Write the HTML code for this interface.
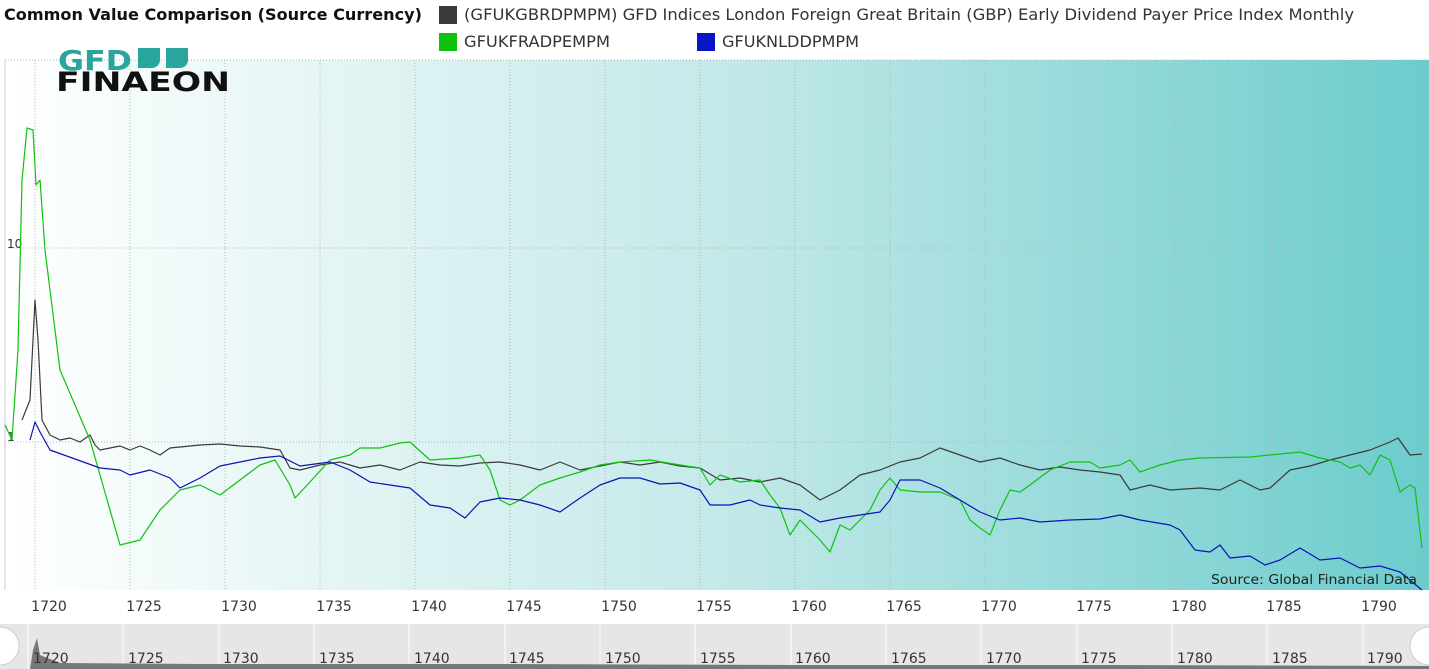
<!DOCTYPE html>
<html><head><meta charset="utf-8"><style>
body{margin:0;background:#fff;font-family:"DejaVu Sans",sans-serif}
</style></head><body>
<svg width="1429" height="669" xmlns="http://www.w3.org/2000/svg" style="display:block" font-family="'DejaVu Sans',sans-serif">
<defs>
<linearGradient id="bg" x1="0" x2="1" y1="0" y2="0">
<stop offset="0" stop-color="#ffffff"/><stop offset="0.5" stop-color="#c5e9e9"/><stop offset="1" stop-color="#6ccccc"/>
</linearGradient>
</defs>
<rect x="5" y="60" width="1424" height="530" fill="url(#bg)"/>
<line x1="5" y1="60" x2="5" y2="590" stroke="#ccc"/>
<g stroke="#b5b5b5" stroke-dasharray="1,2" stroke-width="1">
<line x1="35" y1="60" x2="35" y2="590"/><line x1="130" y1="60" x2="130" y2="590"/><line x1="225" y1="60" x2="225" y2="590"/><line x1="320" y1="60" x2="320" y2="590"/><line x1="415" y1="60" x2="415" y2="590"/><line x1="510" y1="60" x2="510" y2="590"/><line x1="605" y1="60" x2="605" y2="590"/><line x1="700" y1="60" x2="700" y2="590"/><line x1="795" y1="60" x2="795" y2="590"/><line x1="890" y1="60" x2="890" y2="590"/><line x1="985" y1="60" x2="985" y2="590"/><line x1="1080" y1="60" x2="1080" y2="590"/><line x1="1175" y1="60" x2="1175" y2="590"/><line x1="1270" y1="60" x2="1270" y2="590"/><line x1="1365" y1="60" x2="1365" y2="590"/>
<line x1="5" y1="60" x2="1429" y2="60"/><line x1="5" y1="248" x2="1429" y2="248"/><line x1="5" y1="442" x2="1429" y2="442"/>
</g>
<text x="7" y="248" font-size="12" fill="#333">10</text>
<text x="7" y="441" font-size="12" fill="#333">1</text>
<!-- logo -->
<text x="58" y="70" font-size="28" font-weight="bold" fill="#2aa59d" textLength="74" lengthAdjust="spacingAndGlyphs">GFD</text>
<path d="M138 48 h22 v12 a8 8 0 0 1 -8 8 h-14z M166 48 h22 v12 a8 8 0 0 1 -8 8 h-14z" fill="#2aa59d"/>
<text x="56" y="91" font-size="27" font-weight="bold" fill="#111" textLength="174" lengthAdjust="spacingAndGlyphs">FINAEON</text>
<g fill="none" stroke-width="1.2" stroke-linejoin="round">
<polyline stroke="#3a3a3a" points="22,420 30,400 35,300 38,340 42,420 50,435 60,440 70,438 80,442 90,435 95,445 100,450 110,448 120,446 130,450 140,446 150,450 160,455 170,448 180,447 200,445 220,444 240,446 260,447 280,450 290,468 300,470 320,465 340,462 360,468 380,465 400,470 420,462 440,465 460,466 480,463 500,462 520,465 540,470 560,462 580,470 600,466 620,462 640,465 660,462 680,466 700,468 720,480 740,478 760,482 780,478 800,485 820,500 840,490 860,475 880,470 900,462 920,458 940,448 960,455 980,462 1000,458 1020,465 1040,470 1060,467 1080,470 1100,472 1120,475 1130,490 1150,485 1170,490 1200,488 1220,490 1240,480 1260,490 1270,488 1290,470 1310,466 1330,460 1350,455 1370,450 1390,442 1398,438 1410,455 1422,454"/>
<polyline stroke="#0fc20f" points="5,425 12,440 18,350 22,180 27,128 33,130 36,185 40,180 45,250 60,370 90,440 120,545 140,540 160,510 180,490 200,485 220,495 240,480 260,465 275,460 290,485 295,498 310,482 330,460 350,455 360,448 380,448 400,443 410,442 430,460 460,458 480,455 490,470 500,500 510,505 520,500 540,485 560,478 580,472 600,465 620,462 650,460 680,465 700,468 710,485 720,475 740,482 760,480 770,495 780,508 790,535 800,520 810,530 820,540 830,552 840,525 850,530 860,520 870,510 880,490 890,478 900,490 920,492 940,492 960,500 970,520 980,528 990,535 1000,510 1010,490 1020,492 1030,485 1050,470 1070,462 1090,462 1100,468 1120,465 1130,460 1140,472 1160,465 1180,460 1200,458 1250,457 1300,452 1320,458 1340,462 1350,468 1360,465 1370,475 1380,455 1390,460 1400,492 1410,485 1415,488 1422,548"/>
<polyline stroke="#0a14b4" points="30,440 35,422 40,432 50,450 100,468 120,470 130,475 150,470 170,478 180,488 200,478 220,466 240,462 260,458 280,456 300,466 330,462 350,470 370,482 390,485 410,488 430,505 450,508 465,518 480,502 500,498 520,500 540,505 560,512 580,498 600,485 620,478 640,478 660,484 680,483 700,490 710,505 730,505 750,500 760,505 780,508 800,510 820,522 840,518 860,515 880,512 890,500 900,480 920,480 940,488 960,500 980,512 1000,520 1020,518 1040,522 1070,520 1100,519 1120,515 1140,520 1170,525 1180,530 1195,550 1210,552 1220,545 1230,558 1250,556 1265,565 1280,560 1300,548 1320,560 1340,558 1360,568 1380,566 1400,572 1422,590"/>
</g>
<text x="1417" y="584" font-size="13" fill="#222" text-anchor="end" textLength="206" lengthAdjust="spacingAndGlyphs">Source: Global Financial Data</text>
<g font-size="14" fill="#333" text-anchor="middle">
<text x="49" y="611">1720</text><text x="144" y="611">1725</text><text x="239" y="611">1730</text><text x="334" y="611">1735</text><text x="429" y="611">1740</text><text x="524" y="611">1745</text><text x="619" y="611">1750</text><text x="714" y="611">1755</text><text x="809" y="611">1760</text><text x="904" y="611">1765</text><text x="999" y="611">1770</text><text x="1094" y="611">1775</text><text x="1189" y="611">1780</text><text x="1284" y="611">1785</text><text x="1379" y="611">1790</text>
</g>
<!-- navigator -->
<rect x="0" y="624" width="1429" height="45" fill="#e6e6e6"/>
<g stroke="#fff"><line x1="28" y1="624" x2="28" y2="669"/><line x1="123" y1="624" x2="123" y2="669"/><line x1="219" y1="624" x2="219" y2="669"/><line x1="314" y1="624" x2="314" y2="669"/><line x1="409" y1="624" x2="409" y2="669"/><line x1="505" y1="624" x2="505" y2="669"/><line x1="600" y1="624" x2="600" y2="669"/><line x1="695" y1="624" x2="695" y2="669"/><line x1="791" y1="624" x2="791" y2="669"/><line x1="886" y1="624" x2="886" y2="669"/><line x1="981" y1="624" x2="981" y2="669"/><line x1="1077" y1="624" x2="1077" y2="669"/><line x1="1172" y1="624" x2="1172" y2="669"/><line x1="1267" y1="624" x2="1267" y2="669"/><line x1="1363" y1="624" x2="1363" y2="669"/></g>
<path d="M30 669 L33 650 L37 638 L40 655 L60 663 L200 664 L500 664 L800 665 L1100 665 L1429 666 L1429 669Z" fill="#777"/>
<g font-size="14" fill="#333">
<text x="33" y="663">1720</text><text x="128" y="663">1725</text><text x="223" y="663">1730</text><text x="319" y="663">1735</text><text x="414" y="663">1740</text><text x="509" y="663">1745</text><text x="605" y="663">1750</text><text x="700" y="663">1755</text><text x="795" y="663">1760</text><text x="891" y="663">1765</text><text x="986" y="663">1770</text><text x="1081" y="663">1775</text><text x="1177" y="663">1780</text><text x="1272" y="663">1785</text><text x="1367" y="663">1790</text>
</g>
<circle cx="0" cy="646" r="19" fill="#fff" stroke="#ccc"/>
<circle cx="1429" cy="646" r="19" fill="#fff" stroke="#ccc"/>
<!-- title/legend -->
<text x="4" y="20" font-size="16" font-weight="bold" fill="#111" textLength="418" lengthAdjust="spacingAndGlyphs">Common Value Comparison (Source Currency)</text>
<rect x="439" y="6" width="18" height="18" fill="#3a3a3a"/>
<text x="464" y="20" font-size="16" fill="#333" textLength="890" lengthAdjust="spacingAndGlyphs">(GFUKGBRDPMPM) GFD Indices London Foreign Great Britain (GBP) Early Dividend Payer Price Index Monthly</text>
<rect x="439" y="33" width="18" height="18" fill="#0fc20f"/>
<text x="464" y="47" font-size="16" fill="#333" textLength="146" lengthAdjust="spacingAndGlyphs">GFUKFRADPEMPM</text>
<rect x="697" y="33" width="18" height="18" fill="#0a14c8"/>
<text x="722" y="47" font-size="16" fill="#333" textLength="137" lengthAdjust="spacingAndGlyphs">GFUKNLDDPMPM</text>
</svg>
</body></html>
